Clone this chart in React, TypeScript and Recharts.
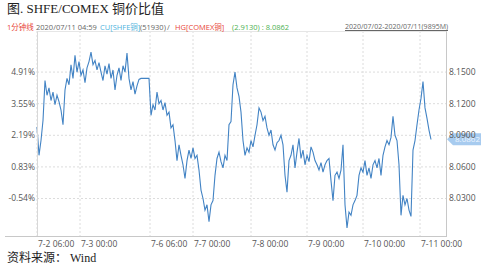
import React from "react";
import { LineChart, Line, XAxis, YAxis, CartesianGrid, ReferenceLine } from "recharts";

// SHFE/COMEX copper price ratio, 1-minute series (~1 point per 2px)
const RATIO = [
  8.098, 8.071, 8.085, 8.104, 8.142, 8.128, 8.135, 8.123, 8.131, 8.119,
  8.128, 8.122, 8.114, 8.1, 8.133, 8.144, 8.138, 8.157, 8.144, 8.166,
  8.15, 8.16, 8.147, 8.152, 8.14, 8.154, 8.16, 8.169, 8.157, 8.161,
  8.152, 8.159, 8.15, 8.142, 8.156, 8.148, 8.158, 8.144, 8.152, 8.133,
  8.147, 8.154, 8.142, 8.156, 8.15, 8.168, 8.144, 8.133, 8.141, 8.129,
  8.137, 8.143, 8.144, 8.144, 8.144, 8.144, 8.144, 8.109, 8.119, 8.114,
  8.131, 8.12, 8.123, 8.114, 8.121, 8.109, 8.112, 8.097, 8.1, 8.085,
  8.066, 8.081, 8.071, 8.062, 8.049, 8.066, 8.076, 8.068, 8.078, 8.068,
  8.071, 8.057, 8.038, 8.03, 8.019, 8.024, 8.008, 8.024, 8.028, 8.052,
  8.068, 8.074, 8.065, 8.059, 8.071, 8.066, 8.1, 8.103, 8.138, 8.15,
  8.135, 8.127, 8.112, 8.085, 8.071, 8.078, 8.074, 8.085, 8.079, 8.09,
  8.1, 8.116, 8.112, 8.104, 8.108, 8.097, 8.09, 8.095, 8.081, 8.076,
  8.083, 8.085, 8.09, 8.081, 8.052, 8.036, 8.066, 8.071, 8.081, 8.059,
  8.074, 8.087, 8.068, 8.076, 8.062, 8.071, 8.065, 8.079, 8.074, 8.066,
  8.062, 8.057, 8.064, 8.055, 8.062, 8.066, 8.068, 8.047, 8.028, 8.052,
  8.055, 8.049, 8.057, 8.081, 8.024, 8.002, 8.017, 8.014, 8.024, 8.028,
  8.033, 8.052, 8.059, 8.055, 8.066, 8.052, 8.059, 8.049, 8.062, 8.066,
  8.059, 8.068, 8.052, 8.071, 8.079, 8.085, 8.081, 8.088, 8.108, 8.09,
  8.085, 8.062, 8.014, 8.033, 8.024, 8.03, 8.019, 8.013, 8.076, 8.085,
  8.1, 8.114, 8.125, 8.141, 8.116, 8.106, 8.095, 8.086,
];

const LAST = 8.0862;

const RATIO_TICKS = [8.03, 8.06, 8.09, 8.12, 8.15];
const PCT_LABELS = ["-0.54%", "0.83%", "2.19%", "3.55%", "4.91%"];

const X_TICKS = [0, 21.5, 56.5, 78, 107, 135, 163, 191.5];
const X_LABELS = [
  "7-2 06:00",
  "7-3 00:00",
  "7-6 06:00",
  "7-7 00:00",
  "7-8 00:00",
  "7-9 00:00",
  "7-10 00:00",
  "7-11 00:00",
];

const data = RATIO.map((v, i) => ({ i, v }));

const W = 481;
const H = 269;
const TICK_FONT = "'Open Sans', 'Noto Sans CJK SC', sans-serif";
const SERIF = "'Liberation Serif', 'Noto Sans CJK SC', serif";

const LeftTick = ({ y, payload }: any) => {
  const idx = RATIO_TICKS.indexOf(payload.value);
  return (
    <text x={35} y={y} dy={3} textAnchor="end" fontSize={8.5} fill="#555" fontFamily={TICK_FONT}>
      {PCT_LABELS[idx]}
    </text>
  );
};

const RightTick = ({ y, payload }: any) => (
  <text x={449} y={y} dy={3} textAnchor="start" fontSize={8.5} fill="#555" fontFamily={TICK_FONT}>
    {payload.value.toFixed(4)}
  </text>
);

const BottomTick = ({ x, payload }: any) => {
  const idx = X_TICKS.indexOf(payload.value);
  return (
    <text x={x + 1} y={247} textAnchor="start" fontSize={8.5} fill="#555" fontFamily={TICK_FONT}>
      {X_LABELS[idx]}
    </text>
  );
};

const LastTag = ({ viewBox }: any) => {
  const y = viewBox.y;
  const x0 = 447;
  return (
    <g>
      <polygon
        points={`${x0},${y} ${x0 + 6},${y - 6} ${W},${y - 6} ${W},${y + 6} ${x0 + 6},${y + 6}`}
        fill="#a7cbef"
      />
      <text x={x0 + 8} y={y + 3} fontSize={8} fill="#eef6ff" fontFamily={TICK_FONT}>
        {LAST.toFixed(4)}
      </text>
    </g>
  );
};

// header line pieces: [text, color, left]
const INFO = [
  ["1分钟线", "#e8463a", 7],
  ["2020/07/11 04:59", "#666", 36],
  ["CU[SHFE铜]", "#4fb3dd", 100],
  ["(51930)", "#666", 140],
  ["/", "#666", 167],
  ["HG[COMEX铜]", "#e8463a", 175],
  ["(2.9130) : 8.0862", "#4cb050", 232],
] as const;

export default function App() {
  return (
    <div style={{ position: "fixed", left: 0, top: 0, width: W, height: H, background: "#fff", overflow: "hidden" }}>
      <LineChart
        width={W}
        height={H}
        data={data}
        margin={{ top: 31, right: 0, bottom: 13, left: 0 }}
      >
        <CartesianGrid
          yAxisId="ratio"
          stroke="#dcdcdc"
          strokeDasharray="2 2"
          horizontalValues={RATIO_TICKS}
          verticalValues={X_TICKS}
        />
        <XAxis
          type="number"
          dataKey="i"
          domain={[0, 205]}
          ticks={X_TICKS}
          tick={<BottomTick />}
          tickLine={false}
          axisLine={false}
          height={20}
          interval={0}
        />
        <YAxis
          yAxisId="pct"
          orientation="left"
          width={37}
          domain={[7.9944, 8.189]}
          ticks={RATIO_TICKS}
          tick={<LeftTick />}
          tickLine={false}
          axisLine={false}
          allowDataOverflow
          interval={0}
        />
        <YAxis
          yAxisId="ratio"
          orientation="right"
          width={34}
          domain={[7.9944, 8.189]}
          ticks={RATIO_TICKS}
          tick={<RightTick />}
          tickLine={false}
          axisLine={false}
          allowDataOverflow
          interval={0}
        />
        <ReferenceLine yAxisId="ratio" y={LAST} stroke="none" label={<LastTag />} />
        <Line
          yAxisId="ratio"
          type="linear"
          dataKey="v"
          stroke="#4283c4"
          strokeWidth={1.1}
          dot={false}
          isAnimationActive={false}
        />
      </LineChart>

      {/* frame */}
      <div style={{ position: "absolute", left: 37, top: 31, width: 410, height: 205, borderTop: "1px solid #e6e6e6", borderLeft: "1px solid #d8d8d8", borderRight: "1px solid #c8c8c8", boxSizing: "border-box" }} />
      <div style={{ position: "absolute", left: 5, top: 236, width: 442, height: 1, background: "#c8c8c8" }} />

      <div style={{ position: "absolute", left: 7, top: 0, fontSize: 13, lineHeight: "18px", color: "#222", fontFamily: SERIF, whiteSpace: "nowrap" }}>
        图. SHFE/COMEX 铜价比值
      </div>

      {INFO.map(([t, c, x]) => (
        <div key={t} style={{ position: "absolute", left: x, top: 21, fontSize: 7.5, lineHeight: "12px", color: c, fontFamily: TICK_FONT, whiteSpace: "nowrap" }}>
          {t}
        </div>
      ))}
      <div style={{ position: "absolute", left: 345, top: 21, fontSize: 7, lineHeight: "12px", whiteSpace: "nowrap", color: "#666", textDecoration: "underline", fontFamily: TICK_FONT }}>
        2020/07/02-2020/07/11(9895M)
      </div>

      <div style={{ position: "absolute", left: 7, top: 249, fontSize: 12, lineHeight: "18px", color: "#222", fontFamily: SERIF, whiteSpace: "nowrap" }}>
        资料来源： Wind
      </div>
    </div>
  );
}
